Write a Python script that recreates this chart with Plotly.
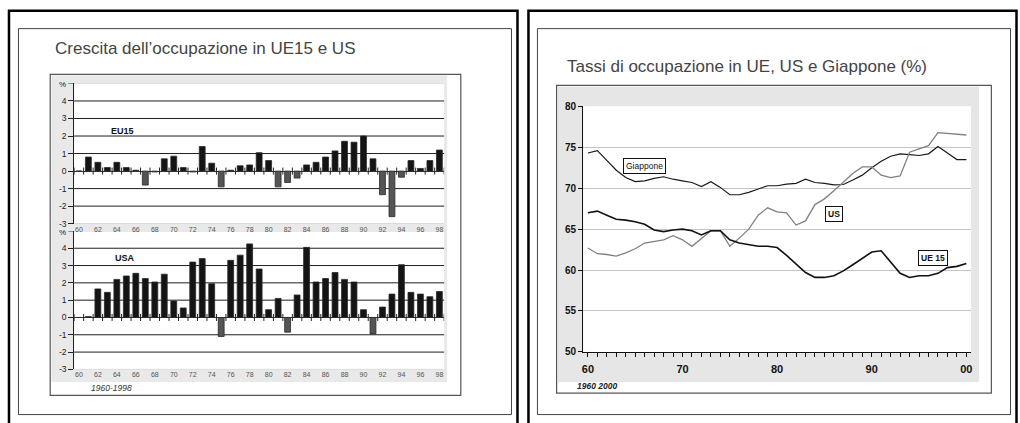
import plotly.graph_objects as go

W, H = 1020, 423

# ---------------- data ----------------
bar_years = list(range(1960, 1999))
eu15_growth = [0.0, 0.8, 0.5, 0.2, 0.5, 0.2, 0.05, -0.8, -0.05, 0.7,
               0.85, 0.2, -0.05, 1.4, 0.45, -0.9, 0.05, 0.3, 0.35, 1.05,
               0.6, -0.9, -0.65, -0.4, 0.35, 0.5, 0.8, 1.15, 1.7, 1.65,
               2.0, 0.7, -1.35, -2.6, -0.35, 0.6, 0.15, 0.6, 1.2]
usa_growth = [0.0, 0.05, 1.65, 1.45, 2.2, 2.4, 2.55, 2.25, 2.05, 2.5,
              0.95, 0.55, 3.2, 3.4, 1.95, -1.1, 3.3, 3.6, 4.25, 2.8,
              0.45, 1.1, -0.85, 1.3, 4.05, 2.05, 2.25, 2.6, 2.2, 2.05,
              0.45, -0.95, 0.6, 1.35, 3.05, 1.45, 1.35, 1.2, 1.5]
bar_tick_years = bar_years[::2]
bar_tick_labels = [str(y)[2:] for y in bar_tick_years]
growth_ticks = [-3, -2, -1, 0, 1, 2, 3, 4]
growth_tick_labels = ["-3", "-2", "-1", "0", "1", "2", "3", "4"]
growth_top = 5
growth_unit_label = "%"
growth_grid = [-2, -1, 1, 2, 3, 4]

line_years = list(range(1960, 2001))
giappone = [74.3, 74.6, 73.4, 72.2, 71.3, 70.8, 70.9, 71.2, 71.4, 71.1,
            70.9, 70.7, 70.2, 70.8, 70.1, 69.2, 69.2, 69.5, 69.9, 70.3,
            70.3, 70.5, 70.6, 71.1, 70.7, 70.6, 70.4, 70.45, 71.0, 71.6,
            72.5, 73.3, 73.9, 74.2, 74.1, 74.0, 74.2, 75.1, 74.3, 73.5,
            73.5]
us_rate = [62.7, 62.0, 61.9, 61.7, 62.1, 62.6, 63.3, 63.5, 63.7, 64.2,
           63.7, 62.9, 63.9, 64.8, 64.8, 62.9, 63.9, 65.0, 66.7, 67.6,
           67.1, 67.0, 65.5, 66.0, 68.0, 68.7, 69.7, 70.7, 71.8, 72.6,
           72.6, 71.6, 71.3, 71.5, 74.4, 74.8, 75.2, 76.8, 76.7, 76.6,
           76.5]
ue15_rate = [67.0, 67.2, 66.7, 66.2, 66.1, 65.9, 65.6, 64.9, 64.7, 64.9,
             65.0, 64.8, 64.3, 64.8, 64.8, 63.7, 63.3, 63.1, 62.9, 62.9,
             62.75, 61.8, 60.8, 59.7, 59.1, 59.1, 59.3, 59.9, 60.65, 61.4,
             62.2, 62.35, 61.0, 59.6, 59.1, 59.3, 59.3, 59.6, 60.3, 60.45,
             60.8]
rate_tick_years = list(range(1960, 2001))
rate_tick_labels = ["60" if y == 1960 else "70" if y == 1970 else "80" if y == 1980
                    else "90" if y == 1990 else "00" if y == 2000 else "" for y in rate_tick_years]

FONT = "Liberation Sans, Arial, sans-serif"


def fx(px):
    return px / W


def fy(py):
    return 1 - py / H


fig = go.Figure()

# ---------------- bars ----------------
def bar_colors(vals):
    return ["#141414" if v >= 0 else "#555555" for v in vals]


boundaries = [y - 0.5 for y in bar_years] + [bar_years[-1] + 0.5]

for vals, xa, ya in [(eu15_growth, "x", "y"), (usa_growth, "x2", "y2")]:
    fig.add_trace(go.Bar(x=bar_years, y=vals, xaxis=xa, yaxis=ya, width=0.62,
                         marker=dict(color=bar_colors(vals), line=dict(color="#2a2a2a", width=0.8)),
                         showlegend=False, hoverinfo="x+y"))
    fig.add_trace(go.Scatter(x=boundaries, y=[0] * len(boundaries), xaxis=xa, yaxis=ya,
                             mode="markers", showlegend=False, hoverinfo="skip",
                             marker=dict(symbol="line-ns", size=5, color="#222",
                                         line=dict(color="#222", width=1))))

# ---------------- lines ----------------
fig.add_trace(go.Scatter(x=line_years, y=giappone, xaxis="x3", yaxis="y3", mode="lines",
                         line=dict(color="#1a1a1a", width=1.2), showlegend=False, name="Giappone"))
fig.add_trace(go.Scatter(x=line_years, y=us_rate, xaxis="x3", yaxis="y3", mode="lines",
                         line=dict(color="#808080", width=1.3), showlegend=False, name="US"))
fig.add_trace(go.Scatter(x=line_years, y=ue15_rate, xaxis="x3", yaxis="y3", mode="lines",
                         line=dict(color="#111111", width=1.6), showlegend=False, name="UE 15"))

# ---------------- axes ----------------
left_dom = [fx(73.3), fx(444)]
bar_x_common = dict(range=[1959.5, 1998.5], tickvals=bar_tick_years, ticktext=bar_tick_labels,
                    tickfont=dict(family=FONT, size=7, color="#555"), ticks="",
                    showgrid=False, zeroline=False, showline=False, domain=left_dom, fixedrange=True)
bar_y_common = dict(range=[-3, growth_top], tickvals=growth_ticks, ticktext=growth_tick_labels,
                    tickfont=dict(family=FONT, size=8.5, color="#222"), ticks="outside",
                    ticklen=5, tickcolor="#222", showline=True, linecolor="#222", linewidth=1,
                    showgrid=False, zeroline=True, zerolinecolor="#333", zerolinewidth=1,
                    fixedrange=True)

fig.update_layout(
    xaxis=dict(**bar_x_common, anchor="y"),
    yaxis=dict(**bar_y_common, anchor="x", domain=[fy(224), fy(79.7)]),
    xaxis2=dict(**bar_x_common, anchor="y2"),
    yaxis2=dict(**bar_y_common, anchor="x2", domain=[fy(374), fy(231.5)]),
    xaxis3=dict(range=[1959.5, 2000.5], domain=[fx(583.3), fx(972)], anchor="y3",
                tickvals=rate_tick_years, ticktext=rate_tick_labels, ticks="outside",
                ticklen=4, tickcolor="#111", showline=True, linecolor="#111", linewidth=1,
                showgrid=False, zeroline=False, ticklabelstandoff=3,
                tickfont=dict(family=FONT, size=11, color="#111", weight="bold"), fixedrange=True),
    yaxis3=dict(range=[50, 80], domain=[fy(356), fy(103.3)], anchor="x3", dtick=5,
                ticks="outside", ticklen=4, tickcolor="#111", showline=True, linecolor="#111",
                linewidth=1, showgrid=True, gridcolor="#c4c4c4", gridwidth=1, zeroline=False,
                tickfont=dict(family=FONT, size=10, color="#111", weight="bold"), fixedrange=True),
)

# ---------------- decorative shapes ----------------
shapes = []
# panel frames
shapes.append(dict(type="rect", xref="paper", yref="paper", x0=fx(8), x1=fx(517.5), y0=fy(440), y1=fy(5),
                   line=dict(color="#000", width=2.5), layer="below"))
shapes.append(dict(type="rect", xref="paper", yref="paper", x0=fx(17.5), x1=fx(511.5), y0=fy(420.5), y1=fy(23.3),
                   line=dict(color="#444", width=1), layer="below"))
shapes.append(dict(type="rect", xref="paper", yref="paper", x0=fx(528.5), x1=fx(1017.5), y0=fy(440), y1=fy(5),
                   line=dict(color="#000", width=2.5), layer="below"))
shapes.append(dict(type="rect", xref="paper", yref="paper", x0=fx(537.5), x1=fx(1011.5), y0=fy(420.5), y1=fy(23.3),
                   line=dict(color="#444", width=1), layer="below"))
# chart boxes
shapes.append(dict(type="rect", xref="paper", yref="paper", x0=fx(49.3), x1=fx(460.7), y0=fy(400.7), y1=fy(70.3),
                   line=dict(color="#555", width=1.2), fillcolor="white", layer="below"))
shapes.append(dict(type="rect", xref="paper", yref="paper", x0=fx(50.5), x1=fx(447), y0=fy(387), y1=fy(71.5),
                   line=dict(width=0), fillcolor="#e9e9e9", layer="below"))
shapes.append(dict(type="rect", xref="paper", yref="paper", x0=fx(556.7), x1=fx(992.3), y0=fy(398.5), y1=fy(81.7),
                   line=dict(color="#555", width=1.2), fillcolor="white", layer="below"))
shapes.append(dict(type="rect", xref="paper", yref="paper", x0=fx(558), x1=fx(980), y0=fy(387), y1=fy(83),
                   line=dict(width=0), fillcolor="#e6e6e6", layer="below"))
# white plot areas
for xr, yr in [("x", "y"), ("x2", "y2"), ("x3", "y3")]:
    shapes.append(dict(type="rect", xref=xr + " domain", yref=yr + " domain", x0=0, x1=1, y0=0, y1=1,
                       line=dict(width=0), fillcolor="white", layer="below"))
# grid lines for the bar panels
for yr, xr in [("y", "x"), ("y2", "x2")]:
    for g in growth_grid:
        shapes.append(dict(type="line", xref=xr + " domain", yref=yr, x0=0, x1=1, y0=g, y1=g,
                           line=dict(color="#1e1e1e", width=1), layer="below"))
    for g in (growth_ticks[0], growth_top):
        shapes.append(dict(type="line", xref=xr + " domain", yref=yr, x0=0, x1=1, y0=g, y1=g,
                           line=dict(color="#c8c8c8", width=1), layer="below"))
    # small tick at the top of the axis
    shapes.append(dict(type="line", xref=xr + " domain", yref=yr, x0=-0.016, x1=0, y0=growth_top,
                       y1=growth_top, line=dict(color="#222", width=1), layer="above"))

fig.update_layout(shapes=shapes)

# ---------------- annotations ----------------
ann = []
ann.append(dict(xref="paper", yref="paper", x=fx(52), y=fy(44), xanchor="left", yanchor="middle",
                text="Crescita dell’occupazione in UE15 e US", showarrow=False,
                font=dict(family=FONT, size=17, color="#444")))
ann.append(dict(xref="paper", yref="paper", x=fx(565), y=fy(62), xanchor="left", yanchor="middle",
                text="Tassi di occupazione in UE, US e Giappone (%)", showarrow=False,
                font=dict(family=FONT, size=17, color="#444")))
for xr, yr in [("x", "y"), ("x2", "y2")]:
    ann.append(dict(xref=xr + " domain", yref=yr, x=0, y=growth_top, xanchor="right", yanchor="middle",
                    xshift=-7, yshift=-1.5, text=growth_unit_label, showarrow=False, borderpad=0,
                    font=dict(family=FONT, size=8, color="#222")))
ann.append(dict(xref="x", yref="y", x=1964.6, y=2.3, text="<b>EU15</b>", showarrow=False,
                font=dict(family=FONT, size=9, color="#111")))
ann.append(dict(xref="x2", yref="y2", x=1964.9, y=3.45, text="<b>USA</b>", showarrow=False,
                font=dict(family=FONT, size=9, color="#111")))
ann.append(dict(xref="paper", yref="paper", x=fx(88), y=fy(393.5), xanchor="left", yanchor="middle",
                text="<i>1960-1998</i>", showarrow=False, font=dict(family=FONT, size=8.5, color="#333")))
ann.append(dict(xref="paper", yref="paper", x=fx(575), y=fy(391.5), xanchor="left", yanchor="middle",
                text="<b><i>1960 2000</i></b>", showarrow=False, font=dict(family=FONT, size=8.5, color="#222")))
for txt, xx, yy, bold in [("Giappone", 1966.0, 72.7, False), ("US", 1986.05, 66.9, True),
                          ("UE 15", 1996.5, 61.5, True)]:
    ann.append(dict(xref="x3", yref="y3", x=xx, y=yy, text=("<b>%s</b>" % txt) if bold else txt,
                    showarrow=False, bgcolor="white", bordercolor="#111", borderwidth=1, borderpad=2,
                    font=dict(family=FONT, size=8.5, color="#111")))
fig.update_layout(annotations=ann)

fig.update_layout(width=W, height=H, margin=dict(l=0, r=0, t=0, b=0),
                  paper_bgcolor="white", plot_bgcolor="rgba(0,0,0,0)", bargap=0.3)

fig.write_html("out.html", config={"displayModeBar": False},
               post_script="document.body.style.margin='0px';document.body.style.overflow='hidden';")
